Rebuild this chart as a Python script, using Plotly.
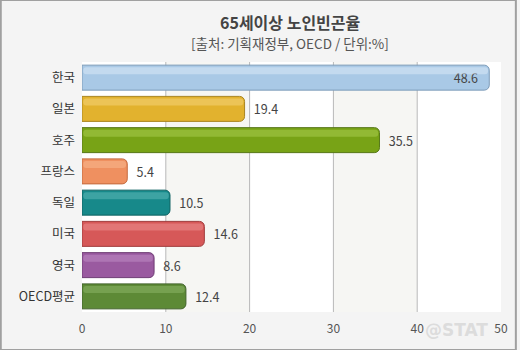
import plotly.graph_objects as go

categories = ["한국", "일본", "호주", "프랑스", "독일", "미국", "영국", "OECD평균"]
values = [48.6, 19.4, 35.5, 5.4, 10.5, 14.6, 8.6, 12.4]
colors = ["#a9c9e6", "#e2b22e", "#78a316", "#ef9060", "#17898a", "#d65858", "#9a5aa0", "#5d8a36"]
border_colors = ["#7d9bb8", "#a98520", "#58791a", "#c46a3e", "#116464", "#a03c3c", "#6e3c74", "#40622a"]
highlight = ["#d8e8f6", "#f4d47a", "#a8cc4e", "#f8b890", "#5cb8b8", "#ec9090", "#c08cc4", "#8ab466"]
tick_vals = [0, 10, 20, 30, 40, 50]
title = "65세이상 노인빈곤율"
subtitle = "[출처: 기획재정부, OECD / 단위:%]"

FONT = "Noto Sans CJK KR"

text_pos = ["inside" if v > 40 else "outside" for v in values]
labels = [f"{v}\u2002" if p == "inside" else f"\u2002{v}" for v, p in zip(values, text_pos)]

fig = go.Figure()
fig.add_trace(go.Bar(
    y=categories, x=values, orientation="h",
    marker=dict(color=colors, line=dict(color=border_colors, width=1)),
    width=0.8,
    text=labels, textposition=text_pos,
    insidetextanchor="end",
    textfont=dict(family=FONT, size=12.5, color="#444"),
    cliponaxis=False, hoverinfo="skip",
))
# glossy highlight stripe
fig.add_trace(go.Bar(
    y=categories, x=[v - 0.3 for v in values], orientation="h",
    base=0.15,
    marker=dict(color=highlight, opacity=0.55, line=dict(width=0)),
    width=0.22, offset=-0.33,
    hoverinfo="skip",
))

shapes = []
for a, b in [(10, 20), (30, 40)]:
    shapes.append(dict(type="rect", xref="x", yref="paper", x0=a, x1=b, y0=0, y1=1,
                       fillcolor="#f6f6f3", line=dict(width=0), layer="below"))
for t in tick_vals[1:-1]:
    shapes.append(dict(type="line", xref="x", yref="paper", x0=t, x1=t, y0=0, y1=1,
                       line=dict(color="#b8b8b8", width=1), layer="below"))
# outer border
shapes.append(dict(type="rect", xref="paper", yref="paper", x0=-82/423, x1=1+15/423,
                   y0=-38/250, y1=1+62/250, line=dict(color="#a0a0a0", width=2),
                   fillcolor="rgba(0,0,0,0)", layer="above"))

fig.update_layout(
    width=520, height=350,
    margin=dict(l=82, r=15, t=62, b=38),
    paper_bgcolor="#f4f4f4", plot_bgcolor="#ffffff",
    barmode="overlay", barcornerradius=5,
    showlegend=False,
    shapes=shapes,
    xaxis=dict(range=[0, 50], tickvals=tick_vals, showgrid=False, zeroline=False,
               showline=False, ticks="", ticklabelstandoff=8,
               tickfont=dict(family=FONT, size=12, color="#555"),
               fixedrange=True),
    yaxis=dict(autorange="reversed", showgrid=False, zeroline=False, showline=False,
               ticks="", ticklabelstandoff=6, tickfont=dict(family=FONT, size=12.5, color="#333"),
               fixedrange=True),
    annotations=[
        dict(text=f"<b>{title}</b>", x=0.497, y=1, xref="paper", yref="paper",
             yanchor="middle", yshift=62 - 22, showarrow=False,
             font=dict(family=FONT, size=16, color="#444")),
        dict(text=subtitle, x=0.497, y=1, xref="paper", yref="paper", showarrow=False,
             yanchor="middle", yshift=62 - 43,
             font=dict(family=FONT, size=13.5, color="#555")),
        dict(text="<b>@STAT</b>", x=1, y=0, xref="paper", yref="paper", showarrow=False,
             xanchor="right", yanchor="middle", xshift=-11, yshift=-(330 - 312),
             font=dict(family="DejaVu Sans", size=17, color="#dcdcdc")),
    ],
)

fig.write_html("out.html")
